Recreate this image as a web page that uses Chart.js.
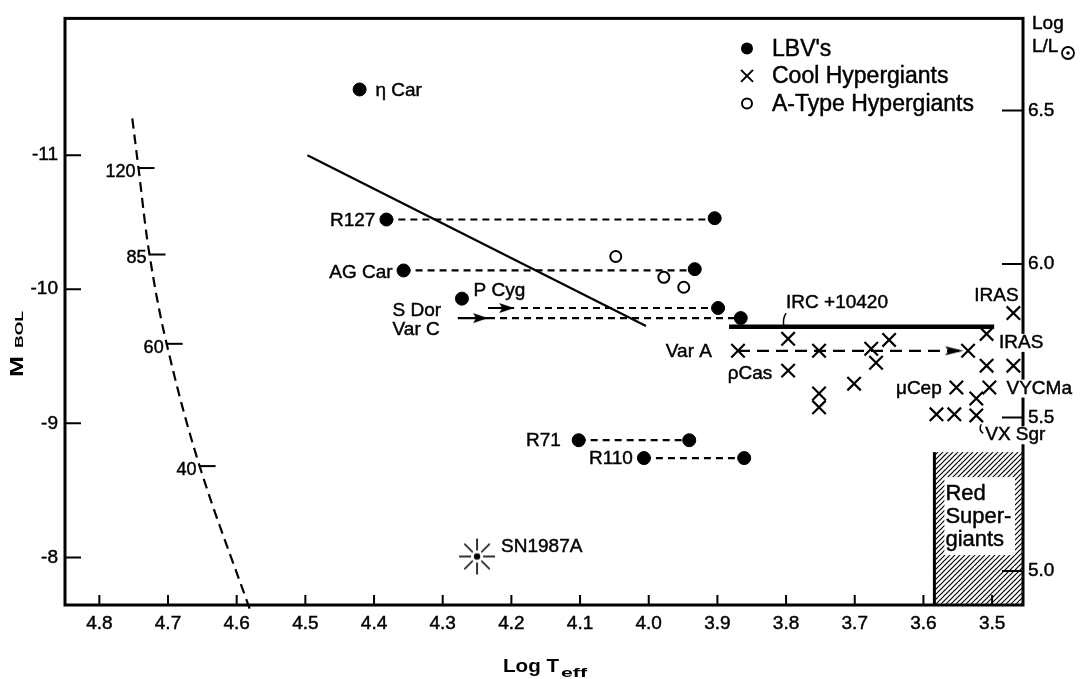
<!DOCTYPE html>
<html><head><meta charset="utf-8">
<script src="https://cdn.jsdelivr.net/npm/chart.js@4.4.1/dist/chart.umd.min.js"></script>
<style>html,body{margin:0;padding:0;background:#fff;}canvas{display:block;}</style>
</head><body>
<canvas id="c" width="1089" height="679"></canvas>
<script>
const FONT = '"Liberation Sans", Arial, Helvetica, sans-serif';

// ---- axis ticks ----
const xTicks = [4.8, 4.7, 4.6, 4.5, 4.4, 4.3, 4.2, 4.1, 4.0, 3.9, 3.8, 3.7, 3.6, 3.5];
const yTicks = [-11, -10, -9, -8];
const lumTicks = [5.0, 5.5, 6.0, 6.5];

// ---- LBVs (filled circles) ----
const lbvLogT = [4.421, 4.382, 3.904, 4.357, 3.933, 4.272, 3.899, 3.866, 4.102, 3.941, 4.007, 3.861];
const lbvMbol = [-11.49, -10.52, -10.53, -10.14, -10.15, -9.93, -9.86, -9.785, -8.874, -8.874, -8.741, -8.741];

// ---- LBV excursions (dashed) ----
const excFromLogT = [4.382, 4.357, 4.186, 4.234, 4.102, 4.007];
const excToLogT   = [3.904, 3.933, 3.899, 3.866, 3.941, 3.861];
const excMbol     = [-10.52, -10.14, -9.86, -9.785, -8.874, -8.741];

// ---- arrows (S Dor, Var C shafts) and arrow tips ----
const shaftFromLogT = [4.234, 4.278];
const shaftToLogT   = [4.196, 4.234];
const shaftMbol     = [-9.86, -9.785];
const varALogT = [3.870, 3.548];
const varAMbol = [-9.541, -9.541];
const tipLogT = [4.196, 4.234, 3.542];
const tipMbol = [-9.86, -9.785, -9.541];

// ---- Cool hypergiants (crosses) ----
const chLogT = [3.870, 3.797, 3.797, 3.752, 3.752, 3.752, 3.701, 3.676, 3.669, 3.650, 3.552, 3.535, 3.508, 3.508, 3.504, 3.523, 3.523, 3.581, 3.555, 3.469, 3.469];
const chMbol = [-9.541, -9.630, -9.393, -9.541, -9.222, -9.119, -9.296, -9.556, -9.452, -9.622, -9.267, -9.541, -9.667, -9.430, -9.267, -9.185, -9.059, -9.067, -9.067, -9.822, -9.430];

// ---- A-type hypergiants (open circles) ----
const aLogT = [4.048, 3.978, 3.949];
const aMbol = [-10.244, -10.089, -10.015];

// ---- SN1987A ----
const snLogT = [4.250];
const snMbol = [-8.007];

// ---- ZAMS / mass track ----
const trackLogT = [4.752, 4.743, 4.727, 4.702, 4.654, 4.580];
const trackMbol = [-11.274, -10.904, -10.259, -9.593, -8.681, -7.60];
const massLabels = ['120', '85', '60', '40'];
const massLogT = [4.743, 4.727, 4.702, 4.654];
const massMbol = [-10.904, -10.259, -9.593, -8.681];

// ---- Humphreys-Davidson limit & IRC +10420 line ----
const hdLogT = [4.497, 4.004];
const hdMbol = [-11.0, -9.726];
const ircLogT = [3.883, 3.497];
const ircMbol = [-9.72, -9.72];

// ---- Red supergiant region ----
const rsgLogT = [3.584, 3.455];
const rsgMbol = [-8.785, -7.645];
const rsgText = ['Red', 'Super-', 'giants'];

// ---- star labels ----
const labelText = ['η Car', 'R127', 'AG Car', 'P Cyg', 'S Dor', 'Var C', 'IRC +10420', 'Var A', 'ρCas', 'IRAS', 'IRAS', 'VYCMa', 'μCep', 'VX Sgr', 'SN1987A', 'R71', 'R110'];
const labelLogT = [4.398, 4.398, 4.373, 4.255, 4.373, 4.373, 3.800, 3.908, 3.885, 3.526, 3.490, 3.479, 3.640, 3.510, 4.215, 4.128, 4.023];
const labelMbol = [-11.48, -10.51, -10.126, -9.985, -9.837, -9.70, -9.896, -9.533, -9.370, -9.948, -9.60, -9.259, -9.259, -8.911, -8.081, -8.867, -8.733];
const labelAlign = ['left', 'right', 'right', 'left', 'left', 'left', 'left', 'right', 'left', 'left', 'left', 'left', 'left', 'left', 'left', 'right', 'right'];

// ---- legend ----
const legendText = ["LBV's", 'Cool Hypergiants', 'A-Type Hypergiants'];

const pts = (xs, ys) => xs.map((v, i) => ({x: v, y: Array.isArray(ys) ? ys[i] : ys}));

// custom point images
function makeStar() {
  const c = document.createElement('canvas'); c.width = 40; c.height = 40;
  const g = c.getContext('2d');
  g.strokeStyle = '#000'; g.lineWidth = 1.6;
  for (let k = 0; k < 8; k++) {
    const a = k * Math.PI / 4;
    g.beginPath();
    g.moveTo(20 + 6 * Math.cos(a), 20 + 6 * Math.sin(a));
    g.lineTo(20 + 18 * Math.cos(a), 20 + 18 * Math.sin(a));
    g.stroke();
  }
  g.fillStyle = '#000'; g.beginPath(); g.arc(20, 20, 3.2, 0, 2 * Math.PI); g.fill();
  return c;
}
function makeHead(len, half) {
  const c = document.createElement('canvas'); c.width = 2 * len + 2; c.height = 2 * half + 2;
  const g = c.getContext('2d');
  const cx = len + 1, cy = half + 1;
  g.fillStyle = '#000';
  g.beginPath(); g.moveTo(cx, cy); g.lineTo(cx - len, cy - half); g.lineTo(cx - len + 3, cy); g.lineTo(cx - len, cy + half); g.closePath(); g.fill();
  return c;
}
function makeHatch() {
  const c = document.createElement('canvas'); c.width = 5; c.height = 5;
  const g = c.getContext('2d');
  g.strokeStyle = '#000'; g.lineWidth = 1.2;
  g.beginPath();
  g.moveTo(-1, 6); g.lineTo(6, -1);
  g.moveTo(-1, 1); g.lineTo(1, -1);
  g.moveTo(4, 6); g.lineTo(6, 4);
  g.stroke();
  return c;
}
const starImg = makeStar();
const headSmall = makeHead(15, 5);
const headLong = makeHead(18, 4.5);
const hatchImg = makeHatch();

const datasets = [];
datasets.push({data: pts(trackLogT, trackMbol), showLine: true, borderColor: '#000', borderWidth: 2.2, borderDash: [10, 6], tension: 0.35, pointRadius: 0, order: 10, clip: {left: 0, top: 0, right: 0, bottom: 10}});
datasets.push({data: pts(hdLogT, hdMbol), showLine: true, borderColor: '#000', borderWidth: 2.2, pointRadius: 0, order: 10});
datasets.push({data: pts(ircLogT, ircMbol), showLine: true, borderColor: '#000', borderWidth: 4.5, pointRadius: 0, order: 10});
for (let i = 0; i < excMbol.length; i++) {
  datasets.push({data: [{x: excFromLogT[i], y: excMbol[i]}, {x: excToLogT[i], y: excMbol[i]}], showLine: true, borderColor: '#000', borderWidth: 2.2, borderDash: [7, 5], pointRadius: 0, order: 9});
}
for (let i = 0; i < shaftMbol.length; i++) {
  datasets.push({data: [{x: shaftFromLogT[i], y: shaftMbol[i]}, {x: shaftToLogT[i], y: shaftMbol[i]}], showLine: true, borderColor: '#000', borderWidth: 2.2, pointRadius: 0, order: 9});
}
datasets.push({data: pts(varALogT, varAMbol), showLine: true, borderColor: '#000', borderWidth: 2.2, borderDash: [12, 7], pointRadius: 0, order: 9});
datasets.push({data: pts(tipLogT, tipMbol), showLine: false, pointStyle: [headSmall, headSmall, headLong], pointRadius: 6, order: 5});
datasets.push({label: legendText[0], data: pts(lbvLogT, lbvMbol), showLine: false, pointStyle: 'circle', pointRadius: 6.5, backgroundColor: '#000', borderColor: '#000', borderWidth: 1, order: 1});
datasets.push({label: legendText[1], data: pts(chLogT, chMbol), showLine: false, pointStyle: 'crossRot', pointRadius: 9.5, borderColor: '#000', borderWidth: 2.2, order: 1});
datasets.push({label: legendText[2], data: pts(aLogT, aMbol), showLine: false, pointStyle: 'circle', pointRadius: 5.5, backgroundColor: '#fff', borderColor: '#000', borderWidth: 2, order: 1});
datasets.push({data: pts(snLogT, snMbol), showLine: false, pointStyle: starImg, pointRadius: 6, order: 1});

function ticksFrom(arr) { return s => { s.ticks = arr.map(v => ({value: v})); }; }

function heavyText(ctx, t, px, py) {
  ctx.lineWidth = 0.45;
  ctx.strokeText(t, px, py);
  ctx.fillText(t, px, py);
}

const decor = {
  id: 'decor',
  beforeDatasetsDraw(chart) {
    const {ctx, scales: {x, y}} = chart;
    const x0 = x.getPixelForValue(rsgLogT[0]), x1 = x.getPixelForValue(rsgLogT[1]);
    const y0 = y.getPixelForValue(rsgMbol[0]), y1 = y.getPixelForValue(rsgMbol[1]);
    ctx.save();
    ctx.fillStyle = ctx.createPattern(hatchImg, 'repeat');
    ctx.fillRect(x0, y0, x1 - x0, y1 - y0);
    ctx.fillStyle = '#fff';
    ctx.fillRect(x0 + 10, y0 + 25, (x1 - x0) - 18, 78);
    ctx.strokeStyle = '#000'; ctx.lineWidth = 3;
    ctx.beginPath(); ctx.moveTo(x0, y0); ctx.lineTo(x0, y1); ctx.stroke();
    ctx.fillStyle = '#000';
    ctx.font = '22px ' + FONT; ctx.textAlign = 'left'; ctx.textBaseline = 'alphabetic';
    rsgText.forEach((t, i) => heavyText(ctx, t, x0 + 11, y0 + 48 + i * 23));
    ctx.restore();
  },
  afterDraw(chart) {
    const {ctx, chartArea: a, scales: {x, y, y2}} = chart;
    ctx.save();
    ctx.strokeStyle = '#000'; ctx.fillStyle = '#000';
    ctx.lineWidth = 3;
    ctx.strokeRect(a.left, a.top, a.right - a.left, a.bottom - a.top);
    ctx.lineWidth = 2;
    ctx.beginPath();
    yTicks.forEach(v => { const p = y.getPixelForValue(v); ctx.moveTo(a.left, p); ctx.lineTo(a.left + 16, p); });
    xTicks.forEach(v => { const p = x.getPixelForValue(v); ctx.moveTo(p, a.bottom); ctx.lineTo(p, a.bottom - 10); });
    lumTicks.forEach(v => { const p = y2.getPixelForValue(v); ctx.moveTo(a.right, p); ctx.lineTo(a.right - 21, p); });
    ctx.stroke();
    ctx.font = '18px ' + FONT; ctx.textAlign = 'right'; ctx.textBaseline = 'middle';
    massLabels.forEach((t, i) => {
      const px = x.getPixelForValue(massLogT[i]), py = y.getPixelForValue(massMbol[i]);
      ctx.lineWidth = 2;
      ctx.beginPath(); ctx.moveTo(px, py); ctx.lineTo(px + 16, py); ctx.stroke();
      heavyText(ctx, t, px - 3, py + 4);
    });
    ctx.font = '19px ' + FONT; ctx.textBaseline = 'middle';
    labelText.forEach((t, i) => {
      const px = x.getPixelForValue(labelLogT[i]), py = y.getPixelForValue(labelMbol[i]);
      ctx.textAlign = labelAlign[i];
      const w = ctx.measureText(t).width;
      const left = labelAlign[i] === 'left' ? px : px - w;
      if (left + w > a.right) {
        ctx.fillStyle = '#fff';
        ctx.fillRect(left - 1, py - 9, w + 2, 18);
        ctx.fillStyle = '#000';
      }
      heavyText(ctx, t, px, py);
      if (t === 'IRC +10420') {
        ctx.lineWidth = 1.5;
        ctx.beginPath(); ctx.moveTo(px, py + 10); ctx.quadraticCurveTo(px - 4, py + 16, px - 2, py + 23); ctx.stroke();
      }
      if (t === 'VX Sgr') {
        ctx.lineWidth = 1.5;
        ctx.beginPath(); ctx.moveTo(px - 4, py - 11); ctx.quadraticCurveTo(px - 7, py - 5, px - 2, py - 2); ctx.stroke();
      }
    });
    // legend
    const lx = a.left + 682, ly = a.top + 30, step = 27.5;
    ctx.font = '23px ' + FONT; ctx.textAlign = 'left'; ctx.textBaseline = 'middle';
    legendText.forEach((t, i) => heavyText(ctx, t, lx + 25, ly + i * step + 1));
    ctx.lineWidth = 2;
    ctx.beginPath(); ctx.arc(lx, ly, 6, 0, 2 * Math.PI); ctx.fill();
    const cy = ly + step;
    ctx.beginPath(); ctx.moveTo(lx - 6, cy - 6); ctx.lineTo(lx + 6, cy + 6); ctx.moveTo(lx - 6, cy + 6); ctx.lineTo(lx + 6, cy - 6); ctx.stroke();
    ctx.beginPath(); ctx.arc(lx, ly + 2 * step, 5, 0, 2 * Math.PI); ctx.stroke();
    // x title
    ctx.textAlign = 'left'; ctx.textBaseline = 'alphabetic';
    const stretched = (t, px, py, font, tw) => {
      ctx.font = font; const w = ctx.measureText(t).width;
      ctx.save(); ctx.translate(px, py); ctx.scale(tw / w, 1); ctx.fillText(t, 0, 0); ctx.restore();
    };
    stretched('Log T', 503, 672, 'bold 19px ' + FONT, 56);
    stretched('eff', 561, 677, 'bold 13px ' + FONT, 26);
    // y title
    ctx.save(); ctx.translate(23, 377); ctx.rotate(-Math.PI / 2);
    stretched('M', 0, 0, 'bold 18px ' + FONT, 21);
    stretched('BOL', 29, 0, 'bold 11px ' + FONT, 37);
    ctx.restore();
    // right title
    ctx.font = '19px ' + FONT;
    heavyText(ctx, 'Log', a.right + 9, 29);
    heavyText(ctx, 'L/L', a.right + 9, 52);
    const sx = a.right + 45, sy = 53;
    ctx.lineWidth = 1.8;
    ctx.beginPath(); ctx.arc(sx, sy, 6, 0, 2 * Math.PI); ctx.stroke();
    ctx.beginPath(); ctx.arc(sx, sy, 1.8, 0, 2 * Math.PI); ctx.fill();
    ctx.restore();
  }
};

const tickFont = {size: 19, family: FONT};
new Chart(document.getElementById('c'), {
  type: 'scatter',
  data: {datasets},
  options: {
    responsive: false,
    animation: false,
    devicePixelRatio: 1,
    layout: {padding: {top: 15, left: 0, right: 0, bottom: 0}},
    plugins: {legend: {display: false}, tooltip: {enabled: false}},
    scales: {
      x: {
        type: 'linear', position: 'bottom', reverse: true, min: 3.455, max: 4.85,
        afterBuildTicks: ticksFrom(xTicks),
        afterFit: s => { s.height = 74; },
        grid: {display: false, drawTicks: false}, border: {display: false},
        ticks: {padding: 7, color: '#000', font: tickFont, textStrokeColor: '#000', textStrokeWidth: 0.45, callback: v => v.toFixed(1), autoSkip: false, maxRotation: 0}
      },
      y: {
        type: 'linear', position: 'left', reverse: true, min: -12.02, max: -7.645,
        afterBuildTicks: ticksFrom(yTicks),
        afterFit: s => { s.width = 65; },
        grid: {display: false, drawTicks: false}, border: {display: false},
        ticks: {padding: 7, color: '#000', font: tickFont, textStrokeColor: '#000', textStrokeWidth: 0.45, callback: v => String(v)}
      },
      y2: {
        type: 'linear', position: 'right', min: 4.889, max: 6.80,
        afterBuildTicks: ticksFrom(lumTicks),
        afterFit: s => { s.width = 66; },
        grid: {display: false, drawTicks: false}, border: {display: false},
        ticks: {padding: 5, color: '#000', font: tickFont, textStrokeColor: '#000', textStrokeWidth: 0.45, callback: v => v.toFixed(1)}
      }
    }
  },
  plugins: [decor]
});
</script>
</body></html>
